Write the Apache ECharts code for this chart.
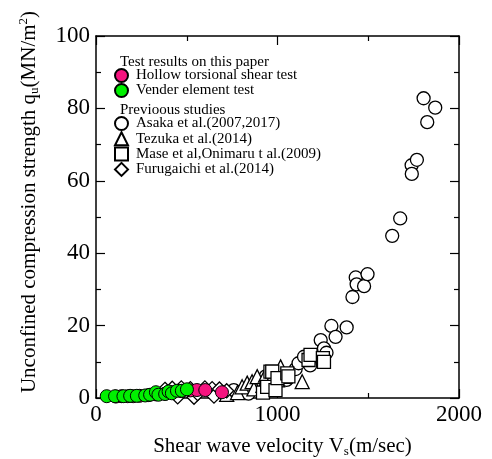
<!DOCTYPE html>
<html>
<head>
<meta charset="utf-8">
<script src="https://cdn.jsdelivr.net/npm/echarts@6/dist/echarts.min.js"></script>
<style>
  html, body { margin: 0; padding: 0; background: #fff; }
  #chart { width: 492px; height: 459px; }
</style>
</head>
<body>
<div id="chart"></div>
<script>
// data: [Vs (m/sec), qu (MN/m2)]
const asaka = [[759,2.2],[840,1.2],[905,2.4],[935,6.0],[990,4.0],[1050,5.0],[1100,8.0],[1116,9.6],
  [1146,11.4],[1180,9.0],[1238,16.0],[1256,13.7],[1270,12.5],[1297,19.9],[1320,16.9],[1381,19.5],
  [1413,27.9],[1431,33.3],[1436,31.4],[1477,30.9],[1496,34.2],[1632,44.8],[1676,49.6],[1739,64.3],
  [1740,61.9],[1768,65.8],[1805,82.8],[1825,76.2],[1869,80.2]];
const tezuka = [[720,1.0],[780,1.5],[805,3.1],[833,4.1],[860,4.5],[870,2.5],[888,5.9],[920,3.5],
  [934,6.3],[960,4.5],[1000,5.0],[1017,8.6],[1040,6.0],[1136,4.5]];
const mase = [[920,1.5],[943,3.1],[961,7.3],[971,7.3],[989,2.2],[1000,5.5],[1054,6.8],[1060,6.0],
  [1171,10.5],[1182,11.9],[1250,11.0],[1256,10.0]];
const furugaichi = [[380,2.4],[420,2.7],[450,0.3],[470,2.8],[520,2.6],[540,0.2],[560,1.2],[600,2.8],
  [640,2.6],[650,0.5],[680,2.5],[720,2.0]];
const hollow = [[110,0.4],[140,0.5],[175,0.5],[205,0.5],[240,0.6],[290,0.8],[330,1.0],[380,1.2],
  [420,1.6],[470,1.9],[520,2.1],[556,2.2],[602,2.2],[694,1.6]];
const vender = [[59,0.5],[105,0.5],[151,0.5],[188,0.6],[225,0.6],[271,0.7],[298,0.9],[330,1.6],
  [344,0.9],[381,1.1],[400,1.8],[418,1.3],[446,2.0],[473,2.0],[501,2.4]];

const xTicks = [0, 1000, 2000];
const yTicks = [0, 20, 40, 60, 80, 100];

const font = 'Liberation Serif';
let chart = echarts.init(document.getElementById('chart'), null, { renderer: 'canvas' });

function axisBase(extra) {
  return Object.assign({
    axisLine: { show: true, onZero: false, lineStyle: { color: '#000', width: 1.5 } },
    axisTick: { show: true, inside: true, length: 9, lineStyle: { color: '#000', width: 1.2 } },
    minorTick: { show: true, splitNumber: 2, length: 5, lineStyle: { color: '#000', width: 1.2 } },
    splitLine: { show: false }
  }, extra);
}

function openSeries(name, data, symbol, size) {
  return {
    name: name,
    type: 'scatter',
    data: data,
    symbol: symbol,
    symbolSize: size,
    itemStyle: { color: '#fff', borderColor: '#000', borderWidth: 1.3, opacity: 1 }
  };
}

const legendText = { fontFamily: font, fontSize: 15, color: '#000', lineHeight: 15, padding: [0, 0, 0, 3] };

const option = {
  animation: false,
  backgroundColor: '#fff',
  grid: { left: 96, right: 33, top: 36, bottom: 61, containLabel: false, outerBoundsMode: 'none' },
  xAxis: [
    axisBase({
      type: 'value', min: 0, max: 2000, interval: 1000, position: 'bottom',
      name: 'Shear wave velocity V{sub|s}(m/sec)',
      nameLocation: 'middle', nameGap: 36,
      nameTextStyle: {
        fontFamily: font, fontSize: 21, color: '#000', lineHeight: 24, padding: [0, 0, 0, 10],
        rich: { sub: { fontFamily: font, fontSize: 13, verticalAlign: 'bottom', lineHeight: 24, color: '#000' } }
      },
      axisLabel: {
        fontFamily: font, fontSize: 23, color: '#000', margin: 5,
        formatter: v => xTicks.indexOf(v) >= 0 ? String(v) : ''
      }
    }),
    axisBase({
      type: 'value', min: 0, max: 2000, interval: 1000, position: 'top',
      axisLabel: { show: false }
    })
  ],
  yAxis: [
    axisBase({
      type: 'value', min: 0, max: 100, interval: 20, position: 'left',
      name: 'Unconfined compression strength q{sub|u}(MN/m{sup|2})',
      nameLocation: 'middle', nameGap: 55, nameRotate: 90,
      nameTextStyle: {
        fontFamily: font, fontSize: 21, color: '#000', lineHeight: 24, padding: [0, 0, 0, 30],
        rich: {
          sub: { fontFamily: font, fontSize: 13, verticalAlign: 'bottom', lineHeight: 24, color: '#000' },
          sup: { fontFamily: font, fontSize: 13, verticalAlign: 'top', lineHeight: 24, color: '#000' }
        }
      },
      axisLabel: {
        fontFamily: font, fontSize: 23, color: '#000', margin: 6,
        formatter: v => yTicks.indexOf(v) >= 0 ? String(v) : ''
      }
    }),
    axisBase({
      type: 'value', min: 0, max: 100, interval: 20, position: 'right',
      axisLabel: { show: false }
    })
  ],
  legend: [
    {
      data: ['Hollow torsional shear test', 'Vender element test'],
      orient: 'vertical', left: 114, top: 68, padding: 0,
      itemWidth: 13, itemHeight: 13, itemGap: 0,
      textStyle: legendText,
      selectedMode: false
    },
    {
      data: ['Asaka et al.(2007,2017)', 'Tezuka et al.(2014)', 'Mase et al,Onimaru t al.(2009)', 'Furugaichi et al.(2014)'],
      orient: 'vertical', left: 114, top: 116, padding: 0,
      itemWidth: 13, itemHeight: 13, itemGap: 0.3,
      textStyle: legendText,
      selectedMode: false
    }
  ],
  graphic: [
    { type: 'text', left: 120, top: 55, style: { text: 'Test results on this paper', font: '15px "Liberation Serif"', fill: '#000' } },
    { type: 'text', left: 120, top: 103, style: { text: 'Previoous studies', font: '15px "Liberation Serif"', fill: '#000' } }
  ],
  series: [
    openSeries('Asaka et al.(2007,2017)', asaka, 'circle', 13),
    openSeries('Tezuka et al.(2014)', tezuka, 'triangle', 14),
    openSeries('Mase et al,Onimaru t al.(2009)', mase, 'rect', 13),
    openSeries('Furugaichi et al.(2014)', furugaichi, 'diamond', 14),
    {
      name: 'Hollow torsional shear test',
      type: 'scatter',
      data: hollow,
      symbol: 'circle',
      symbolSize: 13,
      itemStyle: { color: '#f5147f', borderColor: '#000', borderWidth: 1, opacity: 1 }
    },
    {
      name: 'Vender element test',
      type: 'scatter',
      data: vender,
      symbol: 'circle',
      symbolSize: 13,
      itemStyle: { color: '#00f000', borderColor: '#000', borderWidth: 1, opacity: 1 }
    }
  ]
};

chart.setOption(option);
</script>
</body>
</html>
